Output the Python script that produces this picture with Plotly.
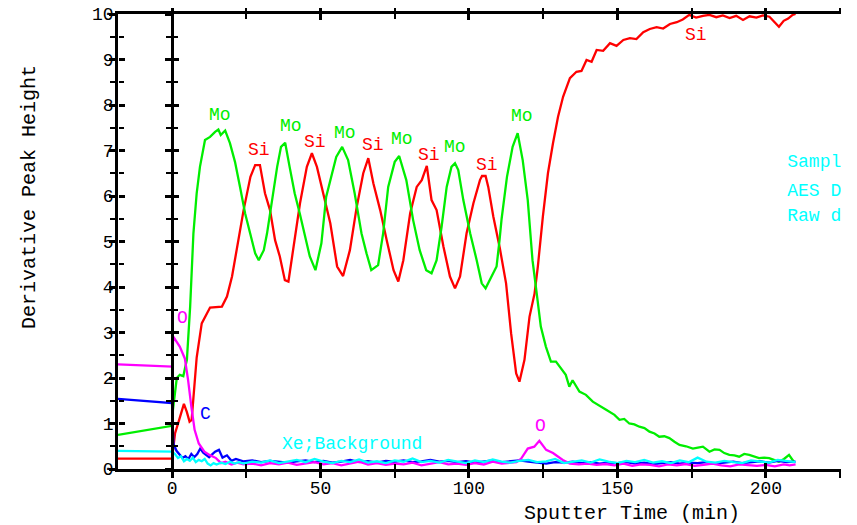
import plotly.graph_objects as go

FONT = "Liberation Mono"

# ---- data (time in min, derivative peak height) ----
SI = [(-18.2,0.23),(0,0.23),(0.5,0.5),(1.0,0.78),(2.5,1.1),(4.0,1.43),(5.0,1.25),(5.9,1.04),(6.6,1.08),
      (8.3,2.45),(10.0,3.2),(11.1,3.35),(12.8,3.55),(16.8,3.57),(18.5,3.79),(20.2,4.23),(22.4,5.03),
      (24.1,5.69),(26.4,6.42),(28.0,6.68),(29.6,6.68),(31.3,6.06),(33.0,5.69),(34.7,5.03),(36.3,4.67),
      (38.0,4.15),(39.2,4.12),(40.9,4.89),(43.1,5.84),(45.4,6.64),(47.1,6.94),(48.8,6.64),(51.1,5.98),
      (53.3,5.40),(55.6,4.45),(57.6,4.24),(59.9,4.81),(62.2,5.76),(64.4,6.50),(66.1,6.83),(67.8,6.28),
      (70.1,5.69),(72.3,5.03),(74.6,4.37),(76.2,4.12),(77.9,4.59),(80.2,5.62),(82.4,6.20),(84.1,6.35),
      (85.8,6.66),(87.4,5.91),(89.1,5.69),(91.4,4.89),(93.6,4.23),(95.3,3.97),(97.0,4.23),(99.2,5.18),
      (101.5,5.84),(103.7,6.35),(104.4,6.44),(105.6,6.44),(106.5,6.20),(108.2,5.55),(110.4,4.85),
      (112.5,4.08),(114.2,2.98),(115.9,2.10),(117.0,1.92),(118.7,2.40),(120.4,3.35),(122.1,3.86),
      (123.2,4.45),(124.9,5.55),(126.6,6.50),(128.3,7.16),(130.0,7.74),(131.7,8.18),(134.0,8.59),
      (136.2,8.73),(137.9,8.75),(139.6,8.99),(141.3,8.95),(143.0,9.21),(145.2,9.19),(147.5,9.36),
      (149.7,9.30),(152.0,9.43),(154.2,9.47),(156.4,9.45),(158.7,9.60),(160.9,9.67),(163.2,9.71),
      (165.4,9.68),(167.7,9.78),(170.0,9.82),(172.0,9.88),(174.2,9.98),(176.5,9.92),(178.8,9.96),
      (181.0,9.98),(183.3,9.93),(185.5,9.97),(187.8,9.91),(190.0,9.96),(192.3,9.87),(194.5,9.95),
      (196.8,9.92),(199.0,9.97),(201.2,9.94),(203.4,9.80),(204.4,9.72),(206.0,9.85),(207.5,9.90),
      (209.0,9.98),(210.0,10.0)]

MO = [(-18.2,0.75),(0,0.95),(0.3,1.30),(1.0,1.75),(1.6,2.00),(2.6,2.07),(3.8,2.04),(4.3,2.20),(5.0,2.40),
      (6.1,3.57),(7.2,5.18),(8.3,6.06),(9.4,6.64),(11.1,7.23),(12.8,7.30),(14.5,7.41),(15.6,7.46),
      (16.4,7.34),(17.9,7.44),(19.5,7.16),(21.2,6.75),(22.9,6.20),(24.6,5.62),(26.3,5.18),(28.0,4.74),
      (29.2,4.59),(30.9,4.81),(32.0,5.18),(33.7,5.91),(35.4,6.64),(36.7,7.08),(38.1,7.17),(39.6,6.64),
      (41.3,6.06),(43.0,5.62),(44.7,5.11),(46.4,4.67),(48.3,4.37),(50.3,4.96),(51.9,5.98),(53.6,6.42),
      (55.3,6.86),(57.3,7.08),(59.3,6.79),(61.5,6.06),(63.8,5.18),(65.5,4.74),(67.1,4.37),(69.4,4.48),
      (71.1,5.18),(72.8,6.20),(75.0,6.75),(76.5,6.88),(78.9,6.35),(81.2,5.47),(83.4,4.81),(85.6,4.37),
      (87.4,4.30),(89.1,4.59),(90.8,5.33),(92.5,6.20),(94.1,6.64),(95.3,6.72),(96.4,6.57),(98.1,5.91),
      (100.4,5.18),(102.6,4.59),(104.3,4.08),(105.6,3.97),(107.7,4.23),(109.3,4.45),(110.3,5.03),
      (111.0,5.50),(112.8,6.42),(114.7,7.08),(116.4,7.38),(118.1,6.79),(119.8,5.91),(121.4,4.59),
      (123.1,3.71),(124.2,3.13),(125.9,2.69),(127.6,2.36),(129.3,2.36),(131.0,2.21),(132.6,2.07),
      (133.8,1.81),(134.9,1.95),(137.2,1.70),(139.4,1.63),(141.7,1.48),(143.9,1.40),(146.2,1.30),
      (149.0,1.19),(150.7,1.08),(152.3,1.10),(154.0,1.00),(155.7,0.98),(157.4,0.93),(159.1,0.90),
      (160.8,0.82),(162.5,0.78),(164.1,0.71),(165.8,0.72),(167.5,0.68),(169.2,0.60),(170.9,0.53),
      (173.1,0.50),(175.4,0.45),(177.1,0.47),(178.8,0.49),(181.0,0.38),(182.7,0.43),(184.4,0.42),
      (186.0,0.35),(187.7,0.31),(189.4,0.30),(191.0,0.27),(192.7,0.33),(194.4,0.31),(196.0,0.27),
      (197.7,0.24),(199.4,0.25),(201.1,0.24),(202.7,0.20),(204.4,0.16),(206.1,0.22),(207.8,0.31),
      (209.4,0.16)]

O = [(-18.2,2.30),(0,2.25),(0.4,2.91),(1.5,2.80),(2.6,2.69),(4.3,2.43),(5.4,1.96),(6.5,1.37),(7.6,0.86),
     (9.0,0.56),(10.9,0.38),(12.6,0.31),(14.8,0.24),(16.5,0.13),(18,0.16),(20,0.10),(22,0.14),(24,0.10),
     (27,0.12),(30,0.08),(33,0.13),(36,0.10),(39,0.14),(42,0.09),(45,0.12),(48,0.15),(51,0.10),(54,0.13),
     (57,0.08),(60,0.12),(63,0.16),(66,0.10),(69,0.13),(72,0.09),(75,0.12),(78,0.10),(81,0.14),(84,0.08),
     (87,0.12),(90,0.15),(93,0.10),(96,0.12),(99,0.09),(102,0.13),(105,0.10),(108,0.16),(111,0.12),
     (114,0.13),(116,0.15),(117.6,0.23),(119.8,0.45),(122.0,0.49),(123.7,0.62),(126.0,0.42),(128.3,0.35),
     (131.6,0.20),(134,0.12),(137,0.10),(140,0.12),(143,0.09),(146,0.11),(149,0.08),(152,0.12),(155,0.07),
     (158,0.10),(161,0.09),(164,0.06),(167,0.10),(170,0.08),(173,0.11),(176,0.07),(179,0.09),(182,0.12),
     (185,0.08),(188,0.06),(191,0.10),(194,0.08),(197,0.07),(200,0.09),(203,0.06),(206,0.10),(208,0.08),
     (210,0.10)]

C_EARLY = [(-18.2,1.54),(0,1.45),(0.2,1.0),(0.5,0.55),(1.5,0.40),(2.5,0.33),(3.5,0.24),(4.5,0.28),
           (5.5,0.22),(6.5,0.33),(7.5,0.26),(8.5,0.33),(9.5,0.45),(10.5,0.36),(11.5,0.30),(12.5,0.26),
           (13.5,0.32),(14.5,0.38),(15.8,0.42),(17.0,0.25),(18.5,0.30),(20.0,0.18),(21.5,0.22)]
XE_EARLY = [(-18.2,0.40),(0,0.38),(1,0.33),(2,0.24),(3,0.28),(4,0.17),(5,0.22),(6,0.18),(7,0.25),(8,0.15),
            (9,0.20),(10,0.17),(11,0.22),(12,0.12),(13,0.08),(14,0.13),(15,0.10),(16.5,0.14),(18,0.11),
            (19.5,0.16),(21,0.12),(22.5,0.15)]

BASE_T = [24,27,30,33,36,39,42,45,48,51,54,57,60,63,66,69,72,75,78,81,84,87,90,93,96,99,102,105,108,111,
          114,117,120,123,126,129,132,135,138,141,144,147,150,153,156,159,162,165,168,171,174,177,180,183,
          186,189,192,195,198,201,204,207,210]
C_BASE = [0.17,0.19,0.15,0.18,0.16,0.14,0.17,0.19,0.15,0.18,
          0.14,0.16,0.20,0.15,0.17,0.14,0.18,0.16,0.19,0.15,
          0.17,0.20,0.16,0.18,0.15,0.17,0.14,0.16,0.19,0.15,
          0.17,0.19,0.16,0.14,0.12,0.15,0.14,0.16,0.13,0.15,
          0.12,0.14,0.13,0.15,0.12,0.14,0.11,0.13,0.15,0.12,
          0.14,0.13,0.15,0.12,0.14,0.16,0.13,0.15,0.17,0.14,
          0.18,0.15,0.16]
XE_BASE = [0.12,0.16,0.14,0.19,0.13,0.17,0.20,0.15,0.22,0.16,
           0.13,0.18,0.15,0.21,0.14,0.17,0.13,0.19,0.16,0.23,
           0.15,0.18,0.14,0.20,0.17,0.13,0.19,0.15,0.21,0.16,
           0.14,0.18,0.20,0.15,0.17,0.22,0.13,0.16,0.19,0.14,
           0.21,0.16,0.13,0.18,0.15,0.20,0.14,0.17,0.13,0.19,
           0.15,0.25,0.16,0.14,0.18,0.15,0.13,0.19,0.16,0.14,
           0.20,0.17,0.15]

# peak labels: (text, colour, t, height)
LABELS = [("Mo","#00ee00",16.1,7.78),("Si","#ff0000",29.3,7.01),("Mo","#00ee00",40.2,7.54),
          ("Si","#ff0000",48.3,7.19),("Mo","#00ee00",58.2,7.39),("Si","#ff0000",67.6,7.12),
          ("Mo","#00ee00",77.4,7.25),("Si","#ff0000",86.4,6.90),("Mo","#00ee00",95.2,7.07),
          ("Si","#ff0000",106.0,6.68),("Mo","#00ee00",117.8,7.76),("Si","#ff0000",176.6,9.54),
          ("O","#ff00ff",3.4,3.32),("C","#0000ff",11.1,1.21),("O","#ff00ff",124.1,0.95),
          ("Xe;Background","#00ffff",60.7,0.56)]
NOTE_LINES = ["Sample: Mo/Si multilayer", "AES Depth Profile", "Raw data"]
NOTE_T = 207.2
NOTE_Y = [6.73, 6.11, 5.56]

X_RANGE = [-18.2, 225.3]
Y_RANGE = [0, 10]
X_TICKS = [0, 50, 100, 150, 200]
X_MINOR = [25, 75, 125, 175, 225]

fig = go.Figure()

def add_line(points, color, name):
    fig.add_trace(go.Scatter(x=[p[0] for p in points], y=[p[1] for p in points], mode="lines",
                             line=dict(color=color, width=2.3), name=name, showlegend=False,
                             hoverinfo="skip"))

add_line(SI, "#ff0000", "Si")
add_line(MO, "#00ee00", "Mo")
add_line(C_EARLY + list(zip(BASE_T, C_BASE)), "#0000ff", "C")
add_line(O, "#ff00ff", "O")
add_line(XE_EARLY + list(zip(BASE_T, XE_BASE)), "#00ffff", "Xe")

# note text, clipped by the plotting area
fig.add_trace(go.Scatter(x=[NOTE_T] * len(NOTE_LINES), y=NOTE_Y, text=NOTE_LINES, mode="text",
                         textposition="middle right", cliponaxis=True,
                         textfont=dict(family=FONT, size=18, color="#00ffff"),
                         showlegend=False, hoverinfo="skip"))

# dummy traces so the overlay axes are drawn
for xa, ya in [("x2", "y"), ("x", "y2"), ("x", "y3"), ("x", "y4")]:
    fig.add_trace(go.Scatter(x=[None], y=[None], xaxis=xa, yaxis=ya, showlegend=False,
                             hoverinfo="skip"))

for text, color, t, h in LABELS:
    fig.add_annotation(x=t, y=h, text=text, showarrow=False, xref="x", yref="y",
                       xanchor="center", yanchor="middle",
                       font=dict(family=FONT, size=18, color=color))

zero_pos = (0 - X_RANGE[0]) / (X_RANGE[1] - X_RANGE[0])

tickfont = dict(family=FONT, size=18, color="black")
xcommon = dict(range=X_RANGE, tickmode="array", tickvals=X_TICKS, showgrid=False, zeroline=False,
               ticklen=6, tickwidth=2.5, tickcolor="black", mirror="allticks", automargin=False)
ycommon = dict(range=Y_RANGE, dtick=1, tick0=0, showgrid=False, zeroline=False,
               ticklen=6, tickwidth=2.5, tickcolor="black", automargin=False)

# the page body has an 8px margin, so the figure is sized 8px smaller to fit the window
fig.update_layout(
    width=849, height=517,
    margin=dict(l=110, r=16, t=6, b=56, autoexpand=False),
    paper_bgcolor="white", plot_bgcolor="white",
    showlegend=False,
    xaxis=dict(**xcommon, ticks="outside", showline=True, linecolor="black", linewidth=2.5,
               tickfont=tickfont, ticklabelstandoff=-5, ticklabeloverflow="allow",
               minor=dict(ticks="outside", tickvals=X_MINOR, ticklen=5,
                          tickwidth=1.5, tickcolor="black")),
    xaxis2=dict(**xcommon, overlaying="x", anchor="y", ticks="inside", showline=False,
                showticklabels=False,
                minor=dict(ticks="inside", tickvals=X_MINOR, ticklen=5,
                           tickwidth=1.5, tickcolor="black")),
    yaxis=dict(**ycommon, ticks="outside", showline=True, linecolor="black", linewidth=2.5,
               tickfont=tickfont, ticklabelstandoff=-8, ticklabeloverflow="allow",
               minor=dict(ticks="outside", dtick=0.5, ticklen=5, tickwidth=2, tickcolor="black")),
    yaxis2=dict(**ycommon, overlaying="y", anchor="free", position=0, side="left", ticks="inside",
                showline=False, showticklabels=False,
                minor=dict(ticks="inside", dtick=0.5, ticklen=5, tickwidth=2, tickcolor="black")),
    yaxis3=dict(**ycommon, overlaying="y", anchor="free", position=zero_pos, side="left",
                ticks="outside", showline=True, linecolor="black", linewidth=2.5,
                showticklabels=False,
                minor=dict(ticks="outside", dtick=0.5, ticklen=5, tickwidth=2, tickcolor="black")),
    yaxis4=dict(**ycommon, overlaying="y", anchor="free", position=zero_pos, side="left",
                ticks="inside", showline=False, showticklabels=False,
                minor=dict(ticks="inside", dtick=0.5, ticklen=5, tickwidth=2, tickcolor="black")),
)

fig.add_annotation(text="Derivative Peak Height", xref="paper", yref="paper", x=-0.1217, y=0.598,
                   xanchor="center", yanchor="middle",
                   textangle=-90, showarrow=False, font=dict(family=FONT, size=20, color="black"))
fig.add_annotation(text="Sputter Time (min)", xref="paper", yref="paper", x=0.711, y=-0.097,
                   xanchor="center", yanchor="middle",
                   showarrow=False, font=dict(family=FONT, size=20, color="black"))

fig.write_html("out.html")
